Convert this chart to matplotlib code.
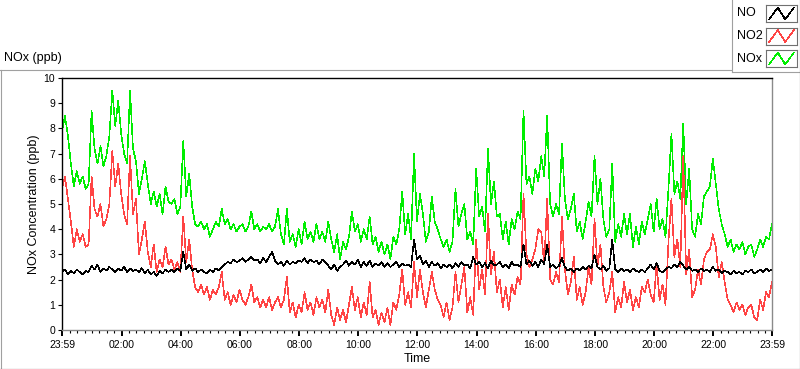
import numpy as np
import matplotlib
matplotlib.use('Agg')
import matplotlib.pyplot as plt
from matplotlib.lines import Line2D

W, H = 800, 369

# one reading every 6 minutes, starting at 23:59
step_min = 6

nox_ppb = [
    7.9, 8.5, 7.7, 6.6, 5.7, 6.3, 5.8, 6.1, 5.6, 5.8,
    8.7, 7.2, 6.6, 7.3, 6.5, 6.9, 7.7, 9.5, 8.1, 9.1,
    7.8, 7.0, 6.6, 9.5, 7.2, 6.7, 5.4, 6.0, 6.7, 5.8,
    5.0, 5.5, 4.9, 5.4, 4.6, 5.7, 5.1, 5.0, 5.2, 4.6,
    4.9, 7.5, 5.3, 6.2, 4.9, 4.2, 4.1, 4.3, 4.0, 4.2,
    3.7, 4.0, 4.3, 4.1, 4.8, 4.2, 4.4, 4.0, 4.2, 3.9,
    4.1, 4.2, 3.9, 4.1, 4.7, 4.0, 4.2, 3.9, 4.1, 4.0,
    4.2, 3.9, 4.1, 4.8, 3.8, 3.4, 4.8, 3.5, 3.8, 3.3,
    4.0, 3.4, 4.3, 3.6, 3.9, 3.5, 4.2, 3.6, 3.9, 3.5,
    4.3, 3.6, 3.1, 3.8, 2.8, 3.5, 3.2, 3.7, 4.7, 3.9,
    4.2, 3.5, 4.0, 3.6, 4.5, 3.4, 3.7, 3.1, 3.5, 3.0,
    3.4, 2.8, 3.7, 3.4, 4.0, 5.5, 3.8, 4.6, 3.6, 7.0,
    4.3, 5.4, 4.6, 3.5, 3.9, 5.3, 4.3, 4.0, 3.6, 3.3,
    3.6, 3.1, 3.5, 5.6, 4.1, 4.6, 5.0, 3.6, 3.9, 3.4,
    6.4, 4.5, 4.9, 3.9, 7.2, 5.0, 5.9, 4.5, 4.6, 3.6,
    4.3, 3.4, 4.4, 4.0, 4.7, 4.4, 8.7, 5.8, 6.1, 5.4,
    6.4, 5.9, 6.9, 6.1, 8.5, 5.0, 4.5, 5.0, 4.6, 7.4,
    5.2, 4.4, 4.8, 5.4, 3.9, 4.3, 3.6, 4.3, 5.1, 4.5,
    6.9, 5.0, 6.0, 4.4, 3.7, 4.0, 6.6, 3.5, 4.2, 3.7,
    4.6, 3.8, 4.6, 3.3, 4.1, 3.4, 4.3, 3.8, 4.4, 5.0,
    3.9, 5.2, 4.0, 4.4, 3.7, 5.6, 7.8, 5.4, 5.9, 5.2,
    8.2, 5.0, 6.4, 4.0, 3.7, 4.6, 4.2, 5.3, 5.5, 5.7,
    6.8, 5.8, 4.8, 4.2, 3.8, 3.3, 3.6, 3.1, 3.4, 3.2,
    3.5, 3.0, 3.3, 3.4, 2.9, 3.2, 3.6, 3.3, 3.7, 3.6,
    4.2,
]

no2_ppb = [
    5.6, 6.1, 5.2, 4.3, 3.3, 4.0, 3.5, 3.8, 3.3, 3.4,
    6.1, 4.8, 4.5, 5.0, 4.1, 4.4, 5.0, 7.1, 5.7, 6.6,
    5.4, 4.6, 4.2, 6.9, 4.6, 5.2, 3.0, 3.6, 4.3, 3.1,
    2.5, 3.4, 2.3, 2.8, 2.5, 3.3, 2.6, 2.8, 2.4, 2.7,
    2.3, 4.5, 2.7, 3.6, 2.4, 1.7, 1.5, 1.8, 1.4, 1.7,
    1.2, 1.6, 1.4, 1.7, 2.3, 1.2, 1.5, 1.0, 1.4, 1.1,
    1.6, 1.2, 1.0, 1.3, 1.8, 1.1, 1.3, 0.9, 1.2, 0.9,
    1.3, 0.8, 1.1, 1.3, 0.9, 1.2, 2.1, 0.7, 1.1, 0.5,
    1.0, 0.7, 1.5, 0.8, 1.1, 0.6, 1.3, 0.9, 1.2, 0.7,
    1.6, 0.6, 0.2, 0.9, 0.4, 0.8, 0.3, 1.0, 1.7, 0.8,
    1.3, 0.5, 1.1, 0.6, 1.9, 0.5, 0.8, 0.2, 0.7, 0.3,
    0.9, 0.2, 1.1, 0.8, 1.4, 2.4, 1.0, 1.5, 0.9, 2.7,
    1.3, 2.4, 1.5, 0.9, 1.6, 2.3, 1.6, 1.2, 1.0, 0.5,
    1.1, 0.4, 0.9, 2.3, 1.1, 1.8, 2.5, 0.7, 1.3, 0.6,
    3.6, 1.6, 2.4, 1.4, 4.6, 2.2, 3.1, 1.5, 2.0, 0.9,
    1.7, 0.8, 1.8, 1.4, 2.1, 1.8, 5.4, 3.0, 2.5, 2.8,
    3.2, 4.0, 3.9, 2.6, 5.2, 2.0, 1.8, 2.3, 1.9, 4.5,
    2.4, 1.4, 1.9, 2.9, 1.2, 1.7, 1.0, 1.5, 2.5, 1.8,
    4.4, 2.5, 3.4, 1.7, 1.1, 1.5, 2.3, 0.7, 1.3, 0.9,
    1.9, 1.1, 1.6, 0.8, 1.3, 0.9, 1.7, 1.5, 2.0, 1.4,
    1.1, 2.6, 1.2, 1.8, 1.0, 3.5, 5.2, 2.9, 3.6, 2.5,
    6.9, 2.2, 3.2, 1.3, 1.6, 2.4, 1.8, 2.8, 3.1, 3.2,
    3.8, 3.3, 2.1, 2.7, 1.9, 1.2, 1.0, 0.7, 1.1, 0.8,
    1.0, 0.6, 0.9, 1.0, 0.5, 0.4, 1.2, 0.8, 1.5, 1.3,
    1.9,
]

no_ppb = [
    2.3, 2.4, 2.2, 2.35, 2.25, 2.4, 2.3, 2.2, 2.35, 2.3,
    2.55, 2.4, 2.6, 2.3, 2.45, 2.35, 2.5, 2.4, 2.3, 2.45,
    2.35, 2.5, 2.3, 2.45, 2.35, 2.4, 2.3, 2.45, 2.25, 2.4,
    2.2, 2.3, 2.15, 2.35, 2.25, 2.4, 2.3, 2.4, 2.3, 2.45,
    2.35, 3.1, 2.4, 2.6, 2.35, 2.45, 2.3, 2.4, 2.3, 2.25,
    2.4, 2.3, 2.45, 2.35, 2.5, 2.6, 2.7, 2.65, 2.8, 2.7,
    2.75, 2.85, 2.7, 2.8, 2.9, 2.75, 2.8, 2.65, 2.85, 2.7,
    2.9, 3.1, 2.75, 2.6, 2.7, 2.55, 2.75, 2.6, 2.7, 2.65,
    2.75, 2.7, 2.85, 2.65, 2.8, 2.7, 2.75, 2.6, 2.8, 2.7,
    2.55, 2.4, 2.6, 2.35, 2.5, 2.6, 2.75, 2.55, 2.7, 2.6,
    2.8, 2.5, 2.7, 2.55, 2.75, 2.5, 2.65, 2.55, 2.7, 2.5,
    2.65, 2.5, 2.6, 2.7, 2.5, 2.65, 2.55, 2.6, 2.5, 3.6,
    2.8, 2.95, 2.6, 2.75, 2.5, 2.7, 2.55, 2.65, 2.45, 2.6,
    2.5, 2.6, 2.45, 2.65, 2.5, 2.7, 2.55, 2.6, 2.45, 2.9,
    2.6, 2.7, 2.5, 2.65, 2.45, 2.75, 2.55, 2.6, 2.7, 2.5,
    2.6, 2.45, 2.7, 2.55, 2.6, 2.5, 3.4, 2.6, 2.75, 2.55,
    2.7, 2.5, 2.8, 2.6, 3.4, 2.5, 2.6, 2.45, 2.55, 2.85,
    2.5, 2.35, 2.45, 2.3, 2.45, 2.35, 2.5, 2.4, 2.55, 2.45,
    3.0, 2.5, 2.4, 2.55, 2.35, 2.45, 3.6, 2.4, 2.3, 2.45,
    2.35, 2.4, 2.3, 2.45, 2.35, 2.3, 2.4, 2.3, 2.45, 2.6,
    2.4, 2.65, 2.35, 2.3, 2.4, 2.5, 2.45, 2.6, 2.5, 2.7,
    2.55, 2.4, 2.5, 2.35, 2.4, 2.3, 2.45, 2.35, 2.4, 2.3,
    2.5, 2.35, 2.4, 2.25, 2.35, 2.3, 2.2, 2.35, 2.25, 2.3,
    2.2, 2.35, 2.3, 2.4, 2.25, 2.3, 2.4, 2.3, 2.45, 2.35,
    2.4,
]

# ticks in minutes after 23:59
tick_min = [0, 121, 241, 361, 481, 601, 721, 841, 961, 1081, 1201, 1321, 1440]
tick_labels = ['23:59', '02:00', '04:00', '06:00', '08:00', '10:00', '12:00',
               '14:00', '16:00', '18:00', '20:00', '22:00', '23:59']
minor_min = list(range(16, 1440, 15))

series_names = ['NO', 'NO2', 'NOx']
series_colors = ['#000000', '#ff4444', '#00ee00']

plt.rcParams['font.family'] = ['Liberation Sans', 'DejaVu Sans']


def fx(x):
    return x / W


def fy(y):
    return 1 - y / H


def frame_line(x0, y0, x1, y1, color):
    fig.add_artist(Line2D([fx(x0), fx(x1)], [fy(y0), fy(y1)],
                          transform=fig.transFigure, color=color, lw=0.8))


fig = plt.figure(figsize=(W / 100, H / 100), dpi=100)
fig.patch.set_facecolor('white')

ax = fig.add_axes([fx(62), fy(330), (772 - 62) / W, (330 - 78) / H])

series = [no_ppb, no2_ppb, nox_ppb]
# NOx at the back, NO on top
for k in [2, 1, 0]:
    vals = series[k]
    t = np.arange(len(vals)) * step_min
    ax.plot(t, vals, color=series_colors[k], lw=0.4, antialiased=False)

ax.set_xlim(0, 1440)
ax.set_ylim(0, 10)
ax.set_yticks(range(0, 11))
ax.set_xticks(tick_min)
ax.set_xticklabels(tick_labels)
ax.set_xticks(minor_min, minor=True)

ax.tick_params(axis='y', length=3, width=0.8, pad=2, labelsize=7.5, colors='black')
ax.tick_params(axis='x', which='major', length=4, width=1.4, pad=3, labelsize=7.5, colors='black')
ax.tick_params(axis='x', which='minor', length=2.5, width=0.8, colors='black')

ax.spines['left'].set_color('black')
ax.spines['top'].set_color('black')
ax.spines['right'].set_color('#8a8a8a')
ax.spines['bottom'].set_color('#8a8a8a')
for s in ax.spines.values():
    s.set_linewidth(1.0)

ax.set_ylabel('NOx Concentration (ppb)', fontsize=9)
ax.yaxis.set_label_coords(-0.031, 0.5)
ax.set_xlabel('Time', fontsize=9)
ax.xaxis.set_label_coords(0.5, -0.09)

fig.text(fx(4), fy(58), 'NOx (ppb)', fontsize=9, ha='left', va='center')

# panel frame
frame_line(0, 69.5, 731, 69.5, '#a0a0a0')
frame_line(0.5, 69.5, 0.5, 368, '#a0a0a0')
frame_line(0, 368.5, 800, 368.5, '#303030')
frame_line(799.5, 72, 799.5, 369, '#303030')

# legend box
frame_line(731.5, 0, 731.5, 72, '#a0a0a0')
frame_line(731.5, 71.5, 800, 71.5, '#a0a0a0')
frame_line(799.5, 0, 799.5, 72, '#303030')

legend_y = [13.5, 36, 58.5]
for k, name in enumerate(series_names):
    yc = legend_y[k]
    fig.text(fx(737), fy(yc), name, fontsize=9, ha='left', va='center')
    sw = fig.add_axes([fx(766), fy(yc + 8.5), 31 / W, 17 / H])
    sw.plot([0.1, 0.38, 0.62, 0.9], [0.15, 0.85, 0.15, 0.85],
            color=series_colors[k], lw=0.4, antialiased=False)
    sw.set_xlim(0, 1)
    sw.set_ylim(0, 1)
    sw.set_xticks([])
    sw.set_yticks([])
    for s in sw.spines.values():
        s.set_color('#707070')
        s.set_linewidth(0.8)

fig.savefig('out.png', dpi=100, facecolor='white')
